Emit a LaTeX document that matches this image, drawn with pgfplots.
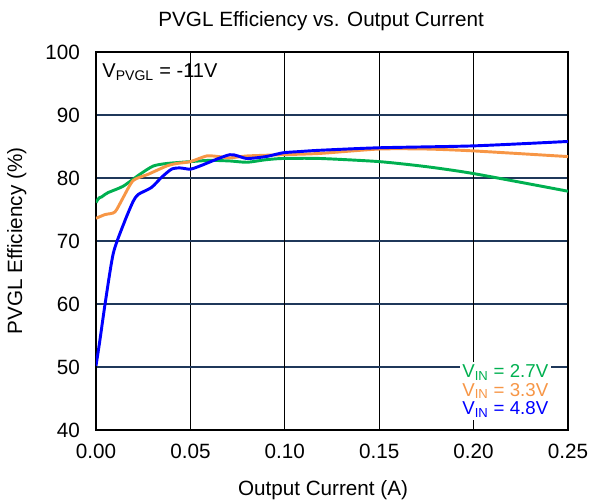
\documentclass[border=0pt]{standalone}
\usepackage{pgfplots}
\pgfplotsset{compat=1.18}
\usepackage{fontspec}
\setmainfont{Liberation Sans}
\definecolor{cgreen}{RGB}{0,176,80}
\definecolor{corange}{RGB}{247,150,70}
\definecolor{cblue}{RGB}{0,0,255}
\definecolor{navygrid}{RGB}{31,56,90}
\begin{document}
\begin{tikzpicture}
\begin{axis}[
    scale only axis,
    at={(0,0)}, anchor=south west,
    width=354pt, height=283.5pt,
    xmin=0, xmax=0.25, ymin=40, ymax=100,
    xtick={0,0.05,0.15},
    ytick={40,50,...,100},
    xticklabel style={/pgf/number format/fixed, /pgf/number format/fixed zerofill,
        /pgf/number format/precision=2, yshift=-7pt},
    /pgf/number format/assume math mode=true,
    scaled x ticks=false,
    tick style={draw=none},
    tick label style={font=\fontsize{15.5}{17}\selectfont},
    yticklabel style={xshift=-8.5pt},
    label style={font=\fontsize{15.5}{17}\selectfont},
    title style={font=\fontsize{15.5}{17}\selectfont, at={(axis description cs:0.477,1.045)}, anchor=base},
    title={PVGL Efficiency vs. Output Current},
    xlabel={Output Current (A)},
    xlabel style={at={(axis description cs:0.481,-0.172)}, anchor=base},
    ylabel={PVGL Efficiency (\%)},
    ylabel style={at={(axis description cs:-0.168,0.5)}, anchor=center},
    axis line style={line width=2pt},
    xmajorgrids, ymajorgrids,
    x grid style={black, line width=1pt},
    y grid style={navygrid, line width=1pt},
    extra x ticks={0.1,0.2,0.25},
    extra x tick style={major grid style={gray, line width=1.6pt}},
]
% V_IN = 2.7V
\addplot[cgreen, line width=2.2pt, smooth, tension=0.4] coordinates {
(0,76.1) (0.001,76.6) (0.002,76.9) (0.003,77.0) (0.0048,77.4) (0.0065,77.7)
(0.0144,78.7) (0.0233,80.6) (0.0303,81.9) (0.0374,82.3) (0.050,82.6) (0.060,82.8)
(0.071,82.7) (0.080,82.5) (0.090,82.9) (0.099,83.1) (0.1185,83.1) (0.150,82.6)
(0.175,81.8) (0.200,80.7) (0.250,77.9)
};
% V_IN = 3.3V
\addplot[corange, line width=2.2pt, smooth, tension=0.4] coordinates {
(0,73.6) (0.0048,74.2) (0.010,74.6) (0.0144,76.9) (0.0197,79.6) (0.0277,80.6)
(0.0374,81.9) (0.0427,82.3) (0.050,82.6) (0.0586,83.5) (0.065,83.4) (0.071,83.2)
(0.080,83.5) (0.099,83.7) (0.1185,83.9) (0.150,84.6) (0.175,84.6) (0.200,84.3)
(0.250,83.4)
};
% V_IN = 4.8V
\addplot[cblue, line width=2.2pt, smooth, tension=0.4] coordinates {
(0,50.2) (0.002,54.1) (0.0048,60) (0.0092,68.1) (0.0153,73.2) (0.0197,76.3)
(0.0224,77.4) (0.0294,78.5) (0.0347,80.1) (0.040,81.4) (0.0444,81.6) (0.050,81.4)
(0.055,81.9) (0.0709,83.7) (0.0797,83.1) (0.090,83.4) (0.099,84.0) (0.108,84.2)
(0.1185,84.4) (0.150,84.8) (0.200,85.1) (0.250,85.8)
};
\node[anchor=base west, inner sep=0pt, font=\fontsize{15}{17}\selectfont]
  at (axis cs:0.0033,96.0) {V\textsubscript{PVGL} = -11V};
\node[anchor=north west, fill=white, inner sep=2pt, align=left, font=\fontsize{14}{13.9}\selectfont]
  at (axis cs:0.1925,50.86) {\textcolor{cgreen}{V\textsubscript{IN} = 2.7V}\\
  \textcolor{corange}{V\textsubscript{IN} = 3.3V}\\
  \textcolor{cblue}{V\textsubscript{IN} = 4.8V}};
\end{axis}
\pgfresetboundingbox
\path[use as bounding box] (-72pt,-54pt) rectangle (371.25pt,322.5pt);
\end{tikzpicture}
\end{document}
